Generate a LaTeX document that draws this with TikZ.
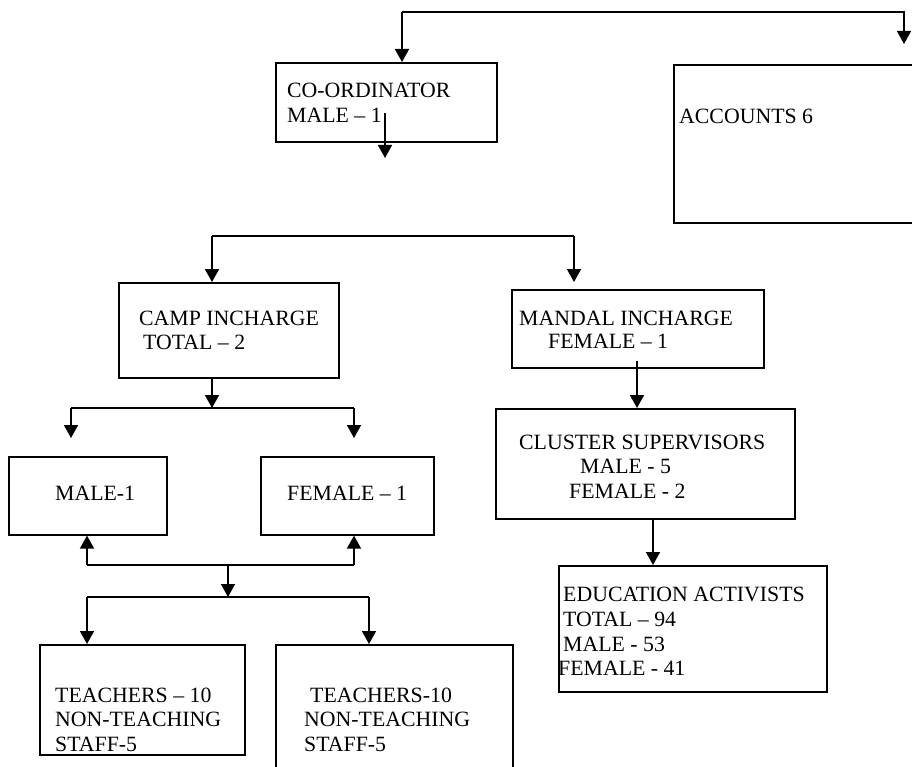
\documentclass[tikz,border=0pt]{standalone}
\usepackage{fontspec}
\setmainfont{Liberation Serif}
\usetikzlibrary{arrows.meta}
\tikzset{
  box/.style={draw, line width=1.6pt, anchor=north west, inner sep=0pt, rectangle},
  txt/.style={anchor=base west, inner sep=0pt, font=\fontsize{21.8}{25}\selectfont},
  conn/.style={line width=1.6pt},
  arr/.style={line width=1.6pt, -{Triangle[width=14pt,length=13pt]}},
}
\begin{document}
\begin{tikzpicture}[x=1pt,y=-1pt]
\useasboundingbox[fill=white] (0,0) rectangle (912,767);
% boxes
\node[box, minimum width=221pt, minimum height=79pt] (coord) at (275,62) {};
\node[box, minimum width=241pt, minimum height=158pt] (acc) at (673,64) {};
\node[box, minimum width=220pt, minimum height=95pt] (camp) at (118,282) {};
\node[box, minimum width=252pt, minimum height=78pt] (mandal) at (511,289) {};
\node[box, minimum width=158pt, minimum height=78pt] (male) at (8,456) {};
\node[box, minimum width=173pt, minimum height=78pt] (female) at (260,456) {};
\node[box, minimum width=299pt, minimum height=110pt] (cluster) at (495,408) {};
\node[box, minimum width=268pt, minimum height=126pt] (edu) at (558,565) {};
\node[box, minimum width=205pt, minimum height=110pt] (teachL) at (39,644) {};
\node[box, minimum width=237pt, minimum height=130pt] (teachR) at (275,644) {};
% texts
\node[txt] (t1) at (287,98) {CO-ORDINATOR};
\node[txt] (t2) at (287,123) {MALE – 1};
\node[txt] (t3) at (679,124) {ACCOUNTS 6};
\node[txt] (t4) at (139,325) {CAMP INCHARGE};
\node[txt] (t5) at (143,349) {TOTAL – 2};
\node[txt] (t6) at (519,325) {MANDAL INCHARGE};
\node[txt] (t7) at (548,348) {FEMALE – 1};
\node[txt] (t8) at (55,500) {MALE-1};
\node[txt] (t9) at (287,500) {FEMALE – 1};
\node[txt] (t10) at (519,449) {CLUSTER SUPERVISORS};
\node[txt] (t11) at (580,473) {MALE - 5};
\node[txt] (t12) at (569,498) {FEMALE - 2};
\node[txt] (t13) at (563,601) {EDUCATION ACTIVISTS};
\node[txt] (t14) at (563,626) {TOTAL – 94};
\node[txt] (t15) at (563,651) {MALE - 53};
\node[txt] (t16) at (558,675) {FEMALE - 41};
\node[txt] (t17) at (55,702) {TEACHERS – 10};
\node[txt] (t18) at (55,726) {NON-TEACHING};
\node[txt] (t19) at (55,751) {STAFF-5};
\node[txt] (t20) at (310,702) {TEACHERS-10};
\node[txt] (t21) at (304,726) {NON-TEACHING};
\node[txt] (t22) at (304,751) {STAFF-5};
% connector coordinates
\coordinate (tl) at (402,12);
\coordinate (tr) at (904,12);
\coordinate (trE) at (904,44);
\coordinate (cS) at (385,113);
\coordinate (cE) at (385,158);
\coordinate (hL) at (212,236);
\coordinate (hR) at (574,236);
\coordinate (campE) at (212,282);
\coordinate (mandE) at (574,282);
\coordinate (c2) at (212,408);
\coordinate (c2L) at (71,408);
\coordinate (c2R) at (354,408);
\coordinate (maleE) at (71,438);
\coordinate (femE) at (354,438);
\coordinate (uL) at (87,565);
\coordinate (uR) at (354,565);
\coordinate (uM) at (228,565);
\coordinate (dM) at (228,597);
\coordinate (dL) at (87,597);
\coordinate (dR) at (369,597);
\coordinate (m1) at (637,361);
\coordinate (cl1) at (653,518);
% connectors
\draw[arr] (tl) -- (coord.north -| tl);
\draw[arr] (tl) -- (tr) -- (trE);
\draw[arr] (cS) -- (cE);
\draw[conn] (hL) -- (hR);
\draw[arr] (hL) -- (campE);
\draw[arr] (hR) -- (mandE);
\draw[arr] (camp.south -| c2) -- (c2);
\draw[conn] (c2L) -- (c2R);
\draw[arr] (c2L) -- (maleE);
\draw[arr] (c2R) -- (femE);
\draw[arr] (uL) -- (male.south -| uL);
\draw[arr] (uR) -- (female.south -| uR);
\draw[conn] (uL) -- (uR);
\draw[arr] (uM) -- (dM);
\draw[conn] (dL) -- (dR);
\draw[arr] (dL) -- (teachL.north -| dL);
\draw[arr] (dR) -- (teachR.north -| dR);
\draw[arr] (m1) -- (cluster.north -| m1);
\draw[arr] (cl1) -- (edu.north -| cl1);
\end{tikzpicture}
\end{document}
